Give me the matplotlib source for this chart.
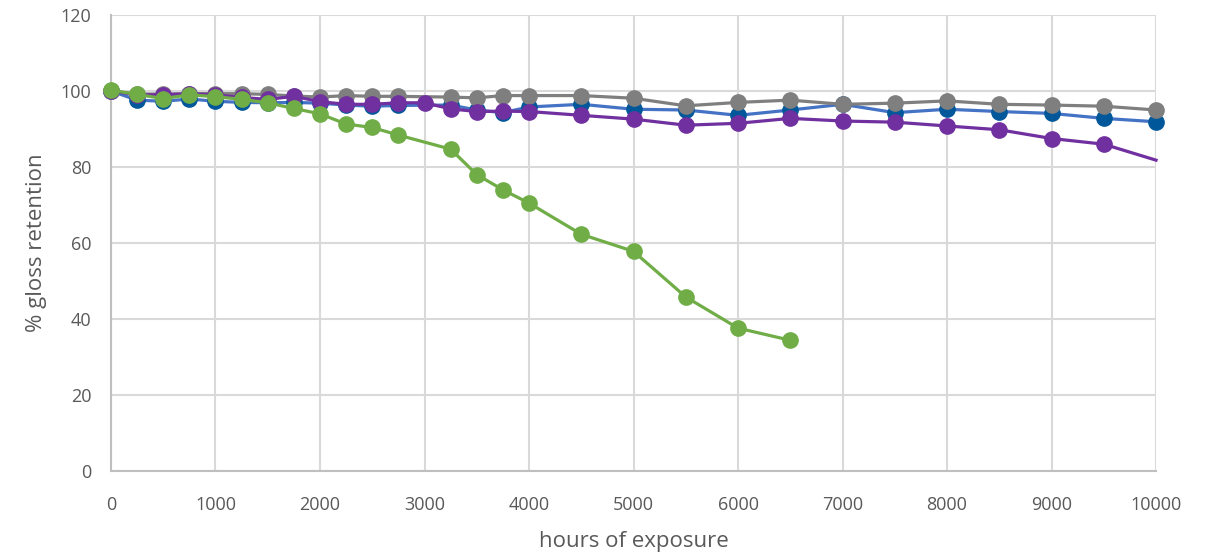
import matplotlib
matplotlib.use('Agg')
import matplotlib.pyplot as plt

# Data
hours = [0, 250, 500, 750, 1000, 1250, 1500, 1750, 2000, 2250, 2500, 2750,
         3250, 3500, 3750, 4000, 4500, 5000, 5500, 6000, 6500, 7000, 7500,
         8000, 8500, 9000, 9500, 10000]
blue_vals = [100, 97.6, 97.3, 97.9, 97.3, 97.0, 96.9, 97.0, 96.8, 96.3, 96.0, 96.2,
             96.3, 95.0, 94.3, 95.8, 96.5, 95.2, 95.0, 93.6, 95.0, 96.5, 94.3,
             95.2, 94.6, 94.1, 92.8, 91.9]
gray_vals = [100, 99.2, 99.2, 99.3, 99.3, 99.3, 99.1, 98.7, 98.4, 98.8, 98.6, 98.6,
             98.4, 98.2, 98.8, 98.8, 98.8, 98.1, 96.1, 97.0, 97.6, 96.5, 96.8,
             97.4, 96.5, 96.3, 96.0, 95.0]

purple_hours = [0, 250, 500, 750, 1000, 1250, 1500, 1750, 2000, 2250, 2500, 2750,
                3000, 3250, 3500, 3750, 4000, 4500, 5000, 5500, 6000, 6500, 7000,
                7500, 8000, 8500, 9000, 9500, 10000]
purple_vals = [100, 99.0, 99.0, 99.3, 99.0, 98.3, 97.8, 98.6, 97.2, 96.5, 96.5, 96.9,
               96.9, 95.3, 94.6, 94.7, 94.6, 93.6, 92.6, 91.0, 91.5, 92.8, 92.1,
               91.8, 90.8, 89.8, 87.5, 86.0, 81.8]

green_hours = [0, 250, 500, 750, 1000, 1250, 1500, 1750, 2000, 2250, 2500, 2750,
               3250, 3500, 3750, 4000, 4500, 5000, 5500, 6000, 6500]
green_vals = [100.2, 99.1, 98.0, 99.0, 98.5, 97.8, 96.9, 95.4, 94.0, 91.3, 90.4, 88.4,
              84.7, 78.0, 74.0, 70.5, 62.3, 57.8, 45.8, 37.6, 34.4]

x_ticks = list(range(0, 10001, 1000))
y_ticks = list(range(0, 121, 20))

plt.rcParams['font.family'] = ['Open Sans', 'DejaVu Sans']

fig = plt.figure(figsize=(12.09, 5.56), dpi=100)
ax = fig.add_axes([0.0918, 0.1529, 0.8644, 0.8201])

ms = 11
lw = 2.3
ax.plot(hours, blue_vals, '-o', color='#4472C4', lw=lw, ms=ms,
        markerfacecolor='#00579A', markeredgecolor='#00579A', zorder=3)
ax.plot(hours, gray_vals, '-o', color='#7F7F7F', lw=lw, ms=ms, zorder=4)
ax.plot(purple_hours, purple_vals, '-o', color='#7030A0', lw=lw, ms=ms,
        markevery=list(range(len(purple_hours) - 1)), zorder=5)
ax.plot(green_hours, green_vals, '-o', color='#70AD47', lw=lw, ms=ms, zorder=6)

ax.set_xlim(0, 10000)
ax.set_ylim(0, 120)
ax.set_xticks(x_ticks)
ax.set_yticks(y_ticks)
ax.grid(True, color='#D9D9D9', lw=1.5, zorder=0)
ax.set_axisbelow(True)

for side in ['top', 'right']:
    ax.spines[side].set_visible(False)
for side in ['left', 'bottom']:
    ax.spines[side].set_color('#BFBFBF')
    ax.spines[side].set_linewidth(1.5)

ax.tick_params(axis='both', length=0, labelsize=13, labelcolor='#595959')
ax.tick_params(axis='x', pad=18)
ax.tick_params(axis='y', pad=14)
for line in ax.lines:
    line.set_clip_on(False)

ax.set_xlabel('hours of exposure', fontsize=16, color='#595959', labelpad=12)
ax.set_ylabel('% gloss retention', fontsize=16, color='#595959', labelpad=10)

fig.savefig('out.png', dpi=100)
